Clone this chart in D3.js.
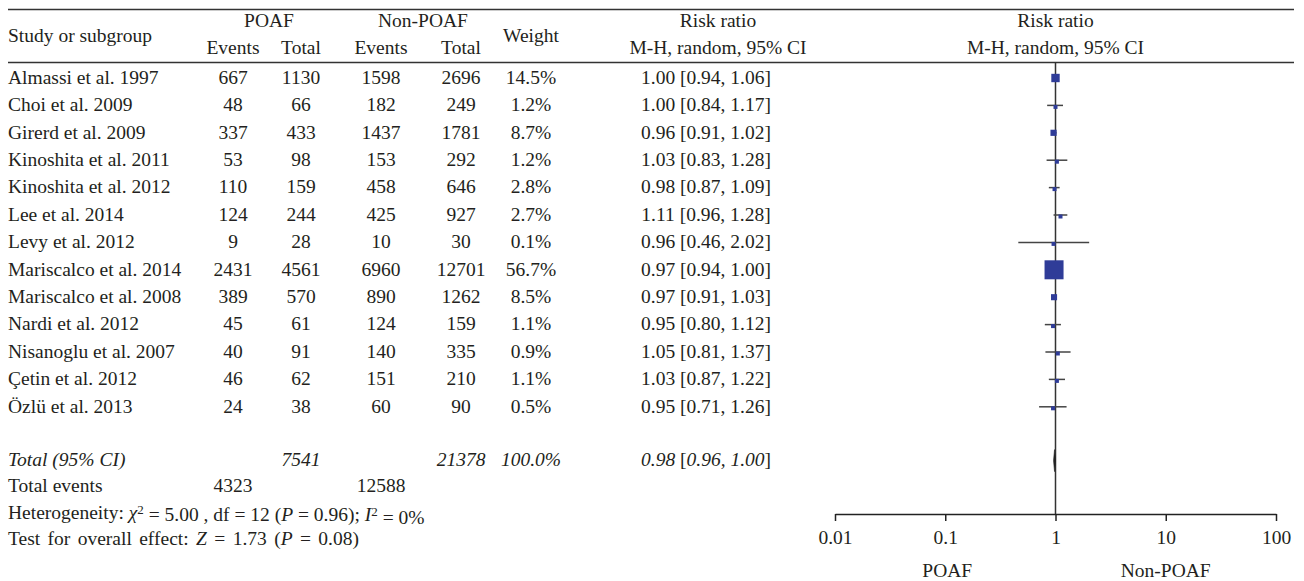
<!DOCTYPE html>
<html>
<head>
<meta charset="utf-8">
<script src="https://cdn.jsdelivr.net/npm/d3@7/dist/d3.min.js"></script>
<style>
  html, body { margin: 0; padding: 0; background: #fff; }
  svg { display: block; }
  text { font-family: "Liberation Serif", "Times New Roman", serif; fill: #231f20; }
</style>
</head>
<body>
<svg id="chart" width="1304" height="581"></svg>
<script>
// ---------------- Data ----------------
const studies = ["Almassi et al. 1997", "Choi et al. 2009", "Girerd et al. 2009", "Kinoshita et al. 2011",
  "Kinoshita et al. 2012", "Lee et al. 2014", "Levy et al. 2012", "Mariscalco et al. 2014",
  "Mariscalco et al. 2008", "Nardi et al. 2012", "Nisanoglu et al. 2007", "Çetin et al. 2012", "Özlü et al. 2013"];
const poafEvents = [667, 48, 337, 53, 110, 124, 9, 2431, 389, 45, 40, 46, 24];
const poafTotal = [1130, 66, 433, 98, 159, 244, 28, 4561, 570, 61, 91, 62, 38];
const nonEvents = [1598, 182, 1437, 153, 458, 425, 10, 6960, 890, 124, 140, 151, 60];
const nonTotal = [2696, 249, 1781, 292, 646, 927, 30, 12701, 1262, 159, 335, 210, 90];
const weights = [14.5, 1.2, 8.7, 1.2, 2.8, 2.7, 0.1, 56.7, 8.5, 1.1, 0.9, 1.1, 0.5];
const rr = [1.00, 1.00, 0.96, 1.03, 0.98, 1.11, 0.96, 0.97, 0.97, 0.95, 1.05, 1.03, 0.95];
const ciLow = [0.94, 0.84, 0.91, 0.83, 0.87, 0.96, 0.46, 0.94, 0.91, 0.80, 0.81, 0.87, 0.71];
const ciHigh = [1.06, 1.17, 1.02, 1.28, 1.09, 1.28, 2.02, 1.00, 1.03, 1.12, 1.37, 1.22, 1.26];

const totalPoaf = 7541, totalNon = 21378, totalWeight = "100.0%";
const pooled = {rr: 0.98, lo: 0.96, hi: 1.00};
const totalEventsPoaf = 4323, totalEventsNon = 12588;
const axisTicks = [0.01, 0.1, 1, 10, 100];
const axisTickLabels = ["0.01", "0.1", "1", "10", "100"];
const favourLabels = ["POAF", "Non-POAF"];

// ---------------- Layout ----------------
const svg = d3.select("#chart");
const FS = 19.5;
const textCol = "#231f20";
const blue = "#2f3c98";

const x = d3.scaleLog().domain([0.01, 100]).range([835, 1276]);
const rowY = d3.scaleLinear().domain([0, 1]).range([77, 104.4]);
const sizeScale = d3.scalePow().exponent(0.6).domain([0, 56.7]).range([0, 19]);

const col = {study: 8, pe: 233, pt: 301, ne: 381, nt: 461, w: 531, ci: 706, ciHead: 718};

function txt(xp, yp, s, anchor, opts = {}) {
  const t = svg.append("text")
    .attr("x", xp).attr("y", yp).attr("dy", "0.35em")
    .attr("text-anchor", anchor || "middle")
    .style("font-size", (opts.size || FS) + "px");
  if (opts.italic) t.style("font-style", "italic");
  return t.text(s);
}

// Rules
svg.append("line").attr("x1", 8).attr("x2", 1294).attr("y1", 9.5).attr("y2", 9.5)
  .attr("stroke", "#333").attr("stroke-width", 1.6);
svg.append("line").attr("x1", 8).attr("x2", 1294).attr("y1", 62.5).attr("y2", 62.5)
  .attr("stroke", "#333").attr("stroke-width", 1.6);

// Headers
txt(col.study, 35, "Study or subgroup", "start");
txt((col.pe + col.pt) / 2 + 2, 20, "POAF");
txt(col.pe, 47, "Events");
txt(col.pt, 47, "Total");
txt((col.ne + col.nt) / 2 + 2, 20, "Non-POAF");
txt(col.ne, 47, "Events");
txt(col.nt, 47, "Total");
txt(col.w, 35, "Weight");
txt(col.ciHead, 20, "Risk ratio");
txt(col.ciHead, 47, "M-H, random, 95% CI");
txt(x(1), 20, "Risk ratio");
txt(x(1), 47, "M-H, random, 95% CI");

// Study rows
studies.forEach((s, i) => {
  const y = rowY(i);
  txt(col.study, y, s, "start");
  txt(col.pe, y, poafEvents[i]);
  txt(col.pt, y, poafTotal[i]);
  txt(col.ne, y, nonEvents[i]);
  txt(col.nt, y, nonTotal[i]);
  txt(col.w, y, weights[i].toFixed(1) + "%");
  txt(col.ci, y, rr[i].toFixed(2) + " [" + ciLow[i].toFixed(2) + ", " + ciHigh[i].toFixed(2) + "]");
});

// Totals
const yTot = rowY(14) - 1;
txt(col.study, yTot, "Total (95% CI)", "start", {italic: true});
txt(col.pt, yTot, totalPoaf, "middle", {italic: true});
txt(col.nt, yTot, totalNon, "middle", {italic: true});
txt(col.w, yTot, totalWeight, "middle", {italic: true});
{
  const t = svg.append("text").attr("x", col.ci).attr("y", yTot).attr("dy", "0.35em")
    .attr("text-anchor", "middle").style("font-size", FS + "px");
  t.append("tspan").style("font-style", "italic").text(pooled.rr.toFixed(2) + " ");
  t.append("tspan").text("[");
  t.append("tspan").style("font-style", "italic").text(pooled.lo.toFixed(2) + ", " + pooled.hi.toFixed(2));
  t.append("tspan").text("]");
}
const yEv = 485;
txt(col.study, yEv, "Total events", "start");
txt(col.pe, yEv, totalEventsPoaf);
txt(col.ne, yEv, totalEventsNon);

// Heterogeneity
{
  const t = svg.append("text").attr("x", col.study).attr("y", 512).attr("dy", "0.35em")
    .style("font-size", FS + "px");
  t.append("tspan").text("Heterogeneity: ");
  t.append("tspan").style("font-style", "italic").text("χ");
  t.append("tspan").attr("dy", "-0.4em").style("font-size", "13px").text("2");
  t.append("tspan").attr("dy", "0.4em").text(" = 5.00 , df = 12 (");
  t.append("tspan").style("font-style", "italic").text("P");
  t.append("tspan").text(" = 0.96); ");
  t.append("tspan").style("font-style", "italic").text("I");
  t.append("tspan").attr("dy", "-0.4em").style("font-size", "13px").text("2");
  t.append("tspan").attr("dy", "0.4em").text(" = 0%");
}
{
  const t = svg.append("text").attr("x", col.study).attr("y", 538).attr("dy", "0.35em")
    .style("font-size", FS + "px").style("word-spacing", "2.5px");
  t.append("tspan").text("Test for overall effect: ");
  t.append("tspan").style("font-style", "italic").text("Z");
  t.append("tspan").text(" = 1.73 (");
  t.append("tspan").style("font-style", "italic").text("P");
  t.append("tspan").text(" = 0.08)");
}

// ---------------- Forest plot ----------------
const axisY = 514;
svg.append("line").attr("x1", x(1)).attr("x2", x(1)).attr("y1", 62.5).attr("y2", axisY)
  .attr("stroke", "#333").attr("stroke-width", 1.5);

const g = svg.append("g");
studies.forEach((s, i) => {
  const y = rowY(i) + 1;
  g.append("line").attr("x1", x(ciLow[i])).attr("x2", x(ciHigh[i]))
    .attr("y1", y).attr("y2", y).attr("stroke", "#444").attr("stroke-width", 1.5);
  const side = Math.max(4, sizeScale(weights[i]));
  g.append("rect").attr("x", x(rr[i]) - side / 2).attr("y", y - side / 2 + (side < 6 ? 1.5 : 0))
    .attr("width", side).attr("height", side).attr("fill", blue);
});

// Diamond
const dy = yTot + 1;
svg.append("path")
  .attr("d", `M${x(pooled.lo)},${dy} L${x(pooled.rr)},${dy - 11} L${x(pooled.hi)},${dy} L${x(pooled.rr)},${dy + 11} Z`)
  .attr("fill", "#222").attr("stroke", "#222").attr("stroke-width", 0.6);

// Axis
const axis = d3.axisBottom(x).tickValues(axisTicks).tickFormat((d, i) => axisTickLabels[i])
  .tickSize(7).tickSizeOuter(0).tickPadding(9);
const ag = svg.append("g").attr("transform", `translate(0,${axisY})`).call(axis);
ag.select(".domain").attr("stroke", "#222").attr("stroke-width", 1.5);
ag.selectAll(".tick line").attr("stroke", "#222").attr("stroke-width", 1.5);
ag.selectAll(".tick text").style("font-family", "'Liberation Serif', serif")
  .style("font-size", FS + "px").attr("fill", textCol);

txt(x(0.1) + 2, 570, favourLabels[0]);
txt(x(10), 570, favourLabels[1]);
</script>
</body>
</html>
